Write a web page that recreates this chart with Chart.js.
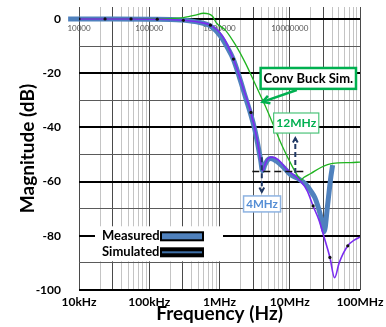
<!DOCTYPE html>
<html lang="en">
<head>
<meta charset="UTF-8">
<title>Filter Magnitude Response</title>
<script src="https://cdn.jsdelivr.net/npm/chart.js@4.4.0/dist/chart.umd.min.js"></script>
<style>
  html, body { margin: 0; padding: 0; background: #fff; }
  #wrap { width: 386px; height: 327px; }
</style>
</head>
<body>
<div id="wrap"><canvas id="bode" width="386" height="327"></canvas></div>
<script>
// axis labels
const xTickValues = [1e4, 1e5, 1e6, 1e7, 1e8];
const xTickLabels = ['10kHz', '100kHz', '1MHz', '10MHz', '100MHz'];
const yTickValues = [0, -20, -40, -60, -80, -100];
const yTickLabels = ['0', '-20', '-40', '-60', '-80', '-100'];

// measured response (Hz / dB)
const measFreq = [7e3, 1e4, 3e4, 1e5, 2.8e5, 4.5e5, 7.4e5, 1.03e6, 1.26e6, 1.58e6,
                  2.0e6, 2.35e6, 2.77e6, 3.16e6, 3.49e6, 3.85e6, 4.1e6, 4.4e6, 4.85e6, 5.35e6,
                  6.5e6, 8.2e6, 1.03e7, 1.34e7, 1.69e7, 2.0e7, 2.28e7, 2.51e7, 2.77e7, 2.96e7,
                  3.09e7, 3.46e7, 3.85e7, 4.08e7];
const measDb = [0, 0, 0, -0.1, -0.4, -1.0, -2.6, -6.3, -10, -15,
                -23, -29, -35, -40.5, -46, -52, -56, -54, -52, -51.5,
                -52.5, -54.8, -57.5, -59, -61, -63.5, -66, -69, -73, -76.5,
                -78.5, -68.6, -58.2, -53.9];

// simulated response
const simFreq = [1e4, 2.35e4, 5.5e4, 1.3e5, 3.06e5, 5.37e5, 7.43e5, 1.1e6, 1.58e6, 2.2e6,
                 2.8e6, 3.4e6, 3.72e6, 4.11e6, 4.54e6, 5.0e6, 5.7e6, 6.9e6, 9.1e6, 1.44e7,
                 1.78e7, 2.15e7, 2.63e7, 3.04e7, 3.73e7, 4.35e7, 5.05e7, 6.7e7, 8.4e7, 1e8];
const simDb = [0, 0, 0, -0.1, -0.5, -1.3, -2.3, -6.3, -14.8, -26,
               -34.5, -44, -50, -56, -53, -51.3, -51, -52, -55.5, -60,
               -63.5, -69, -74.5, -80, -88, -95.5, -90, -83.7, -81.5, -80.5];
const simMarkerFreq = [1e4, 2.35e4, 5.5e4, 1.3e5, 3.06e5, 7.43e5, 1.58e6, 2.8e6, 2.15e7, 3.73e7, 6.7e7];

// conventional buck simulation
const buckFreq = [1e4, 1.43e5, 3.06e5, 3.85e5, 4.54e5, 5.9e5, 7.0e5, 7.95e5, 9.06e5, 1.22e6,
                  1.69e6, 2.35e6, 3.27e6, 4.54e6, 5.97e6, 7.87e6, 1.09e7, 1.34e7, 1.44e7, 1.58e7,
                  2.0e7, 2.77e7, 4.11e7, 7.43e7, 1e8];
const buckDb = [0, 0.1, 0.5, 1.0, 1.4, 2.1, 1.9, 1.0, -1.5, -4.2,
                -9.6, -16.4, -24.4, -32.4, -39.7, -47.1, -54.5, -58.5, -59.5, -58.5,
                -57, -54.8, -53.3, -53, -52.8];

const FONT = 'Lato';
const pts = (fs, ds) => fs.map((f, i) => ({ x: f, y: ds[i] }));

function arrow(ctx, x1, y1, x2, y2, size) {
    ctx.beginPath();
    ctx.moveTo(x1, y1);
    ctx.lineTo(x2, y2);
    ctx.stroke();
    const a = Math.atan2(y2 - y1, x2 - x1);
    ctx.setLineDash([]);
    ctx.beginPath();
    ctx.moveTo(x2 - size * Math.cos(a - 0.5), y2 - size * Math.sin(a - 0.5));
    ctx.lineTo(x2, y2);
    ctx.lineTo(x2 - size * Math.cos(a + 0.5), y2 - size * Math.sin(a + 0.5));
    ctx.stroke();
}

function labelBox(ctx, x, y, f1, d1, f2, d2, text, stroke, lw, color, font) {
    const l = x.getPixelForValue(f1), r = x.getPixelForValue(f2);
    const t = y.getPixelForValue(d1), b = y.getPixelForValue(d2);
    ctx.fillStyle = '#fff';
    ctx.fillRect(l, t, r - l, b - t);
    ctx.strokeStyle = stroke;
    ctx.lineWidth = lw;
    ctx.setLineDash([]);
    ctx.strokeRect(l, t, r - l, b - t);
    ctx.fillStyle = color;
    ctx.font = font;
    ctx.textAlign = 'center';
    ctx.textBaseline = 'middle';
    ctx.fillText(text, (l + r) / 2, (t + b) / 2 + 0.5);
}

const notes = {
    id: 'notes',
    beforeDatasetsDraw(chart) {
        const { ctx, scales: { x, y } } = chart;
        ctx.save();
        ctx.font = '8px ' + FONT;
        ctx.fillStyle = '#555';
        ctx.textAlign = 'center';
        ctx.textBaseline = 'middle';
        xTickValues.slice(0, 4).forEach(v => ctx.fillText(String(v), x.getPixelForValue(v), y.getPixelForValue(-3.4)));
        ctx.restore();
    },
    afterDatasetsDraw(chart) {
        const { ctx, chartArea: ca, scales: { x, y } } = chart;
        ctx.save();

        // legend box
        const lx = ca.left + 16, ly = y.getPixelForValue(-76.5);
        ctx.fillStyle = '#fff';
        ctx.fillRect(lx, ly, 128, 35);
        ctx.font = 'bold 13px ' + FONT;
        ctx.fillStyle = '#000';
        ctx.textAlign = 'left';
        ctx.textBaseline = 'middle';
        ctx.fillText(chart.data.datasets[0].label, lx + 7, ly + 10);
        ctx.fillText(chart.data.datasets[2].label, lx + 7, ly + 26);
        ctx.fillStyle = '#000';
        ctx.fillRect(lx + 65, ly + 5, 44, 10);
        ctx.fillRect(lx + 65, ly + 21, 44, 10);
        ctx.fillStyle = '#4f81bd';
        ctx.fillRect(lx + 67, ly + 7, 40, 6);
        ctx.fillStyle = '#3d6fa8';
        ctx.fillRect(lx + 67, ly + 25, 40, 2);

        // conventional buck call-out
        labelBox(ctx, x, y, 3.85e6, -18.1, 8.77e7, -25.8, 'Conv Buck Sim.', '#00b050', 2.5, '#000', 'bold 13px ' + FONT);
        ctx.strokeStyle = '#00b050';
        ctx.lineWidth = 2.5;
        arrow(ctx, x.getPixelForValue(1.26e7), y.getPixelForValue(-26.2),
                   x.getPixelForValue(4.1e6), y.getPixelForValue(-30.6), 8);

        // 12MHz marker
        labelBox(ctx, x, y, 5.9e6, -34.7, 2.59e7, -42.1, '12MHz', '#4cc47a', 1.2, '#00b050', 'bold 12px ' + FONT);
        ctx.strokeStyle = '#1f3864';
        ctx.lineWidth = 2;
        ctx.setLineDash([5, 3]);
        arrow(ctx, x.getPixelForValue(1.2e7), y.getPixelForValue(-56.8),
                   x.getPixelForValue(1.2e7), y.getPixelForValue(-44), 5);

        // -56 dB reference line
        ctx.strokeStyle = '#111';
        ctx.lineWidth = 1.5;
        ctx.setLineDash([7, 4]);
        ctx.beginPath();
        ctx.moveTo(x.getPixelForValue(2.93e6), y.getPixelForValue(-56.3));
        ctx.lineTo(x.getPixelForValue(1.58e7), y.getPixelForValue(-56.3));
        ctx.stroke();

        // 4MHz marker
        ctx.strokeStyle = '#1f3864';
        ctx.lineWidth = 2;
        ctx.setLineDash([5, 3]);
        arrow(ctx, x.getPixelForValue(4e6), y.getPixelForValue(-51),
                   x.getPixelForValue(4e6), y.getPixelForValue(-63.8), 5);
        labelBox(ctx, x, y, 2.2e6, -65.3, 7.4e6, -71.2, '4MHz', '#8db3e2', 1.5, '#558ed5', 'bold 11.5px ' + FONT);

        ctx.restore();
    }
};

new Chart(document.getElementById('bode'), {
    type: 'line',
    data: {
        datasets: [{
            label: 'Measured',
            data: pts(measFreq, measDb),
            borderColor: '#4f81bd',
            borderWidth: 5,
            pointRadius: 0,
            cubicInterpolationMode: 'monotone',
            clip: false,
            order: 3
        }, {
            label: 'Conv Buck Sim.',
            data: pts(buckFreq, buckDb),
            borderColor: '#1fb41f',
            borderWidth: 1.3,
            pointRadius: 0,
            cubicInterpolationMode: 'monotone',
            order: 2
        }, {
            label: 'Simulated',
            data: pts(simFreq, simDb),
            borderColor: '#7a2cf0',
            borderWidth: 1.6,
            pointRadius: ctx => simMarkerFreq.includes(simFreq[ctx.dataIndex]) ? 1.6 : 0,
            pointBackgroundColor: '#111',
            pointBorderWidth: 0,
            cubicInterpolationMode: 'monotone',
            order: 1
        }]
    },
    options: {
        responsive: false,
        animation: false,
        events: [],
        layout: { padding: { top: 7, right: 26, left: 0, bottom: 0 } },
        plugins: { legend: { display: false }, tooltip: { enabled: false } },
        scales: {
            x: {
                type: 'logarithmic',
                min: 1e4,
                max: 1e8,
                afterBuildTicks: s => {
                    const t = [];
                    for (let d = 1e4; d < 1e8; d *= 10)
                        for (let m = 1; m < 10; m++) t.push({ value: m * d });
                    t.push({ value: 1e8 });
                    s.ticks = t;
                },
                afterFit: s => {
                    s.height = 37;
                    s.paddingLeft = 0;
                    s.paddingRight = 0;
                },
                border: { display: false },
                grid: {
                    drawTicks: false,
                    lineWidth: 1,
                    color: c => {
                        const v = c.tick.value;
                        const m = Math.round(v / Math.pow(10, Math.floor(Math.log10(v) + 1e-9)));
                        return (m === 1 || m === 3) ? '#4a4a4a' : '#c4c4c4';
                    }
                },
                ticks: {
                    autoSkip: false,
                    maxRotation: 0,
                    padding: 5,
                    color: '#000',
                    font: { family: FONT, size: 12, weight: 'bold' },
                    callback: v => {
                        const i = xTickValues.indexOf(v);
                        return i >= 0 ? xTickLabels[i] : '';
                    }
                },
                title: {
                    display: true,
                    text: 'Frequency (Hz)',
                    color: '#000',
                    font: { family: FONT, size: 19, weight: 'bold' },
                    padding: { top: 0, bottom: 2 }
                }
            },
            y: {
                min: -100,
                max: 4.4,
                afterBuildTicks: s => {
                    const t = [];
                    for (let v = -100; v <= 0; v += 5) t.push({ value: v });
                    s.ticks = t;
                },
                afterFit: s => {
                    s.width = 79;
                    s.paddingTop = 0;
                    s.paddingBottom = 0;
                },
                border: { display: false },
                grid: {
                    drawTicks: false,
                    color: c => c.tick.value % 20 === 0 ? '#000' : '#5a5a5a',
                    lineWidth: c => c.tick.value % 20 === 0 ? 2 : 1
                },
                ticks: {
                    padding: 18,
                    color: '#000',
                    font: { family: FONT, size: 12, weight: 'bold' },
                    callback: v => {
                        const i = yTickValues.indexOf(v);
                        return i >= 0 ? yTickLabels[i] : '';
                    }
                },
                title: {
                    display: true,
                    text: 'Magnitude (dB)',
                    color: '#000',
                    font: { family: FONT, size: 19, weight: 'bold' },
                    padding: { top: 16, bottom: 0 }
                }
            }
        }
    },
    plugins: [notes]
});
</script>
</body>
</html>
